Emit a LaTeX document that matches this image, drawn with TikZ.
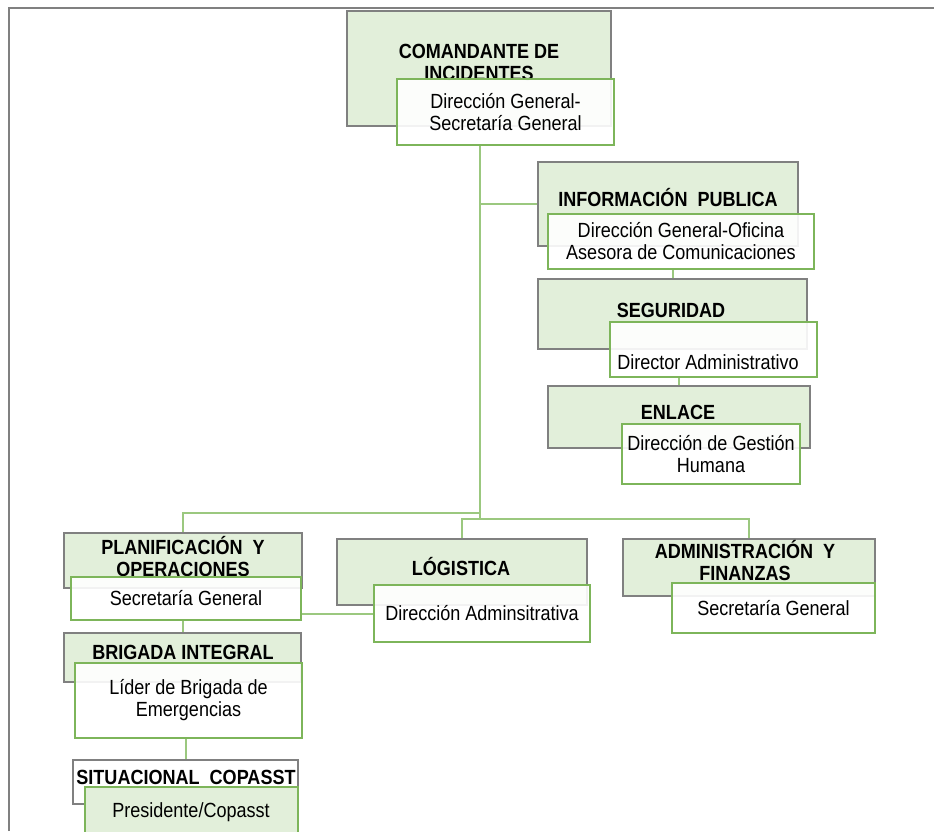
\documentclass[tikz,border=0pt]{standalone}
\usepackage{fontspec}
\newfontfamily\arialn[FakeStretch=0.88]{Liberation Sans}
\usetikzlibrary{positioning, backgrounds}

\definecolor{verde}{HTML}{E2EFDA}
\definecolor{borde}{HTML}{808080}
\definecolor{lineav}{HTML}{7DB55A}
\definecolor{ramav}{HTML}{9BC87F}

\begin{document}
\begin{tikzpicture}[x=1pt, y=-1pt, align=center]

    \tikzset{
      cargo/.style = {draw=borde, fill=verde, line width=1.3pt, inner sep=0pt},
      resp/.style  = {draw=lineav, fill=white, fill opacity=0.9, text opacity=1,
                      line width=1.3pt, inner sep=0pt,
                      font=\arialn\fontsize{20.5}{22}\selectfont},
      titulo/.style = {inner sep=0pt, font=\arialn\bfseries\fontsize{20.5}{22}\selectfont},
      texto/.style  = {inner sep=0pt, font=\arialn\fontsize{20.5}{22}\selectfont},
      rama/.style   = {draw=ramav, line width=2pt},
      marco/.style  = {draw=borde, line width=2pt},
    }

    \useasboundingbox (0,0) rectangle (934,831);
    \clip (0,0) rectangle (934,831);

    \draw[marco] (9,831) -- (9,8) -- (934,8);

    % comandante
    \node[cargo, minimum width=264pt, minimum height=115pt] (cmd) at (479,68.5) {};
    \node[titulo] (cmdt) at (479,62) {COMANDANTE DE\\INCIDENTES};
    \node[resp, minimum width=217pt, minimum height=66pt] (cmdw) at (505.5,112)
      {Dirección General-\\Secretaría General};

    % staff
    \node[cargo, minimum width=260pt, minimum height=84pt] (info) at (668,204) {};
    \node[titulo] (infot) at (668,198) {INFORMACIÓN~ PUBLICA};
    \node[resp, minimum width=266pt, minimum height=55pt] (infow) at (681,241.5)
      {Dirección General-Oficina\\Asesora de Comunicaciones};

    \node[cargo, minimum width=269pt, minimum height=70pt] (seg) at (672.5,314) {};
    \node[titulo] (segt) at (671,310) {SEGURIDAD};
    \node[resp, minimum width=207pt, minimum height=55pt] (segw) at (713.5,349.5) {};
    \node[texto] (segd) at (708,362) {Director Administrativo};

    \node[cargo, minimum width=262pt, minimum height=62pt] (enl) at (679,417) {};
    \node[titulo] (enlt) at (678,412) {ENLACE};
    \node[resp, minimum width=178pt, minimum height=60pt] (enlw) at (711,454)
      {Dirección de Gestión\\Humana};

    % secciones
    \node[cargo, minimum width=238pt, minimum height=55pt] (plan) at (183,560.5) {};
    \node[titulo] (plant) at (183,557) {PLANIFICACIÓN~ Y\\OPERACIONES};
    \node[resp, minimum width=230pt, minimum height=43pt] (planw) at (186,598.5)
      {Secretaría General};

    \node[cargo, minimum width=250pt, minimum height=66pt] (log) at (462,572) {};
    \node[titulo] (logt) at (461,567) {LÓGISTICA};
    \node[resp, minimum width=216pt, minimum height=57pt] (logw) at (482,613.5)
      {Dirección Adminsitrativa};

    \node[cargo, minimum width=252pt, minimum height=57pt] (adm) at (749,567.5) {};
    \node[titulo] (admt) at (745,561) {ADMINISTRACIÓN~ Y\\FINANZAS};
    \node[resp, minimum width=203pt, minimum height=50pt] (admw) at (773.5,608)
      {Secretaría General};

    \node[cargo, minimum width=237pt, minimum height=49pt] (brg) at (182.5,657.5) {};
    \node[titulo] (brgt) at (183,652) {BRIGADA INTEGRAL};
    \node[resp, minimum width=227pt, minimum height=75pt] (brgw) at (188.5,700.5)
      {Líder de Brigada de\\Emergencias};

    \node[cargo, fill=white, minimum width=225pt, minimum height=44pt] (sit) at (185.5,782) {};
    \node[titulo] (sitt) at (186,777) {SITUACIONAL~ COPASST};
    \node[resp, fill=verde, fill opacity=1, minimum width=213pt, minimum height=58pt] (sitg)
      at (191.5,816) {};
    \node[texto] (sitd) at (191,812) {Presidente/Copasst};

    \coordinate (hub)  at (480,519);
    \coordinate (lhub) at (480,513);

    \begin{scope}[on background layer]
      \draw[rama] (cmdw.south -| hub) -- (hub);
      \draw[rama] (lhub) -| (plan.north);
      \draw[rama] (hub) -| (log.north);
      \draw[rama] (hub) -| (adm.north);
      \draw[rama] (info.west -| hub) -- (info.west);
      \draw[rama] (infow.south -| seg.north) -- (seg.north);
      \draw[rama] (segw.south -| enl.north) -- (enl.north);
      \draw[rama] (planw.south -| brg.north) -- (brg.north);
      \draw[rama] (brgw.south -| sit.north) -- (sit.north);
      \draw[rama] (logw.west -| planw.east) -- (logw.west);
    \end{scope}

  \end{tikzpicture}
\end{document}
